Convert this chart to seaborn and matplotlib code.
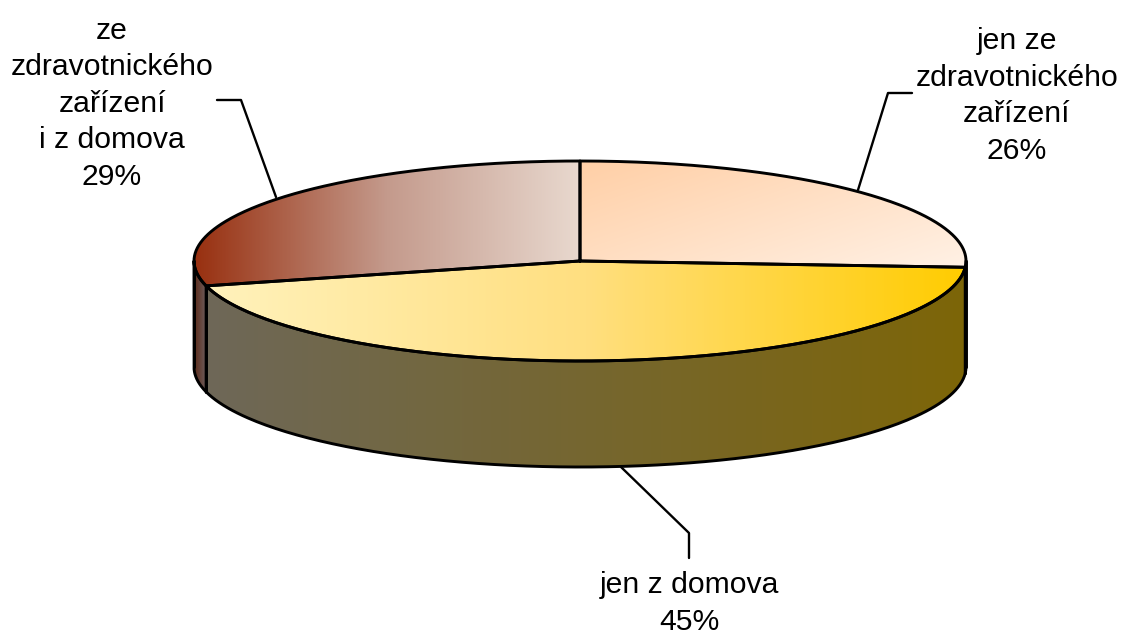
"""3D-look pie of where the patients came from. Run: python plot.py -> out.png"""
from __future__ import annotations

import matplotlib

matplotlib.use("Agg")

import matplotlib.pyplot as plt
import numpy as np
import seaborn as sns
from matplotlib.colors import ListedColormap
from matplotlib.patches import Polygon

labels = [
    "jen ze\nzdravotnického\nzařízení",
    "jen z domova",
    "ze\nzdravotnického\nzařízení\ni z domova",
]
shares = [26, 45, 29]

top_colors = [
    ["#FFCFA6", "#FFF1E5"],
    ["#FFF2BC", "#FFDF80", "#FFCC00"],
    ["#983010", "#C49A8C", "#E8D8CE"],
]
side_colors = [
    ["#7D6508", "#7D6508"],
    ["#6E6858", "#7D6508"],
    ["#5C2A18", "#6E6060"],
]

CX, CY, RX, RY, DEPTH = 580, 261, 386, 100, 106
LW = 2.1


def rim(a0, a1, n=200):
    # angles in degrees, clockwise from the top of the ellipse
    a = np.radians(np.linspace(a0, a1, n))
    return CX + RX * np.sin(a), CY - RY * np.cos(a)


def fill_gradient(ax, xy, colors, diagonal=False):
    patch = Polygon(xy, closed=True, fc="none", ec="none")
    ax.add_patch(patch)
    x0, x1 = xy[:, 0].min(), xy[:, 0].max()
    y0, y1 = xy[:, 1].min(), xy[:, 1].max()
    xx, yy = np.meshgrid(np.linspace(0, 1, 400), np.linspace(0, 1, 200))
    grad = 0.55 * xx + 0.45 * yy if diagonal else xx
    cmap = ListedColormap(sns.blend_palette(colors, 256))
    im = ax.imshow(grad, extent=(x0, x1, y1, y0), cmap=cmap, vmin=0, vmax=1,
                   aspect="auto", zorder=1, interpolation="bilinear")
    im.set_clip_path(patch)


def main() -> None:
    sns.set_theme(style="white")
    plt.rcParams["font.family"] = ["Liberation Sans", "DejaVu Sans"]

    fig = plt.figure(figsize=(11.23, 6.32), dpi=100)
    ax = fig.add_axes([0, 0, 1, 1])

    edges = 360 * np.cumsum([0] + shares) / sum(shares)
    spans = list(zip(edges[:-1], edges[1:]))

    # sides first, only the part of the rim facing the viewer
    for (a0, a1), colors in zip(spans, side_colors):
        lo, hi = max(a0, 90), min(a1, 270)
        if lo >= hi:
            continue
        x, y = rim(lo, hi)
        xy = np.r_[np.c_[x, y], np.c_[x[::-1], y[::-1] + DEPTH]]
        fill_gradient(ax, xy, colors)
        ax.plot(xy[:, 0], xy[:, 1], color="black", lw=LW, zorder=2)
        ax.plot([x[0], x[0]], [y[0], y[0] + DEPTH], color="black", lw=LW, zorder=2)
        ax.plot([x[-1], x[-1]], [y[-1], y[-1] + DEPTH], color="black", lw=LW, zorder=2)

    # top faces
    for i, ((a0, a1), colors) in enumerate(zip(spans, top_colors)):
        x, y = rim(a0, a1)
        xy = np.r_[[[CX, CY]], np.c_[x, y]]
        fill_gradient(ax, xy, colors, diagonal=i == 0)
        outline = np.r_[xy, [[CX, CY]]]
        ax.plot(outline[:, 0], outline[:, 1], color="black", lw=LW, zorder=3,
                solid_joinstyle="round")

    # leader lines and labels
    ax.plot([912, 888, 858], [93, 93, 190], color="black", lw=1.7, zorder=2)
    ax.plot([621, 689, 689], [467, 533, 558], color="black", lw=1.7, zorder=2)
    ax.plot([217, 241, 276], [100, 100, 197], color="black", lw=1.7, zorder=2)

    # anchors are the baseline of the last line of each label
    anchors = [(1017, 159), (689, 630), (112, 185)]
    for label, share, (tx, ty) in zip(labels, shares, anchors):
        ax.text(tx, ty, f"{label}\n{share}%", ha="center", va="baseline",
                fontsize=21.7, color="black", linespacing=1.39, zorder=4)

    ax.set_xlim(0, 1123)
    ax.set_ylim(632, 0)
    ax.axis("off")
    fig.savefig("out.png", dpi=100, facecolor="white")
    plt.close(fig)


if __name__ == "__main__":
    main()
